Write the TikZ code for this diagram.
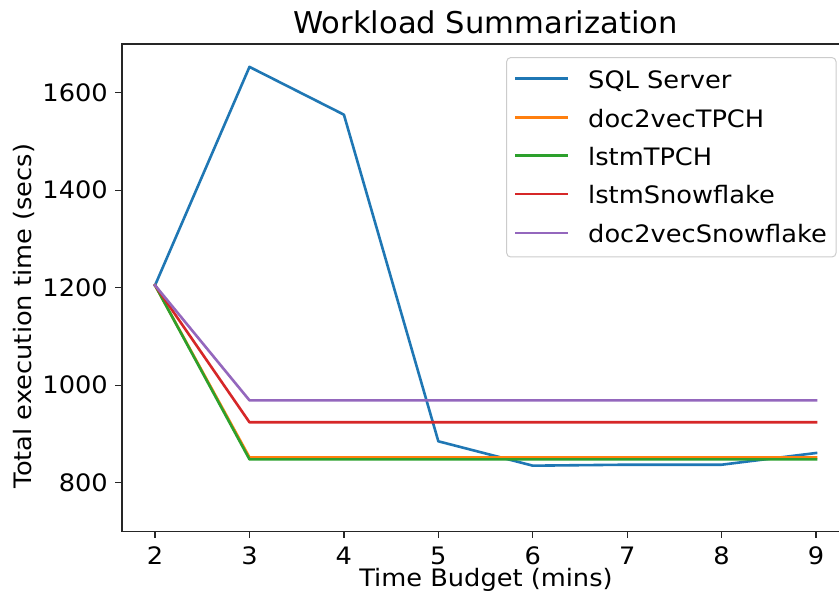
\documentclass[tikz,border=0pt]{standalone}
\usepackage{fontspec}
\setmainfont{DejaVu Sans}
\definecolor{tabblue}{HTML}{1F77B4}
\definecolor{taborange}{HTML}{FF7F0E}
\definecolor{tabgreen}{HTML}{2CA02C}
\definecolor{tabred}{HTML}{D62728}
\definecolor{tabpurple}{HTML}{9467BD}
\definecolor{spinegray}{HTML}{262626}
\tikzset{
  series/.style={line width=2.6pt, line join=round, line cap=rect},
  spine/.style={draw=spinegray, line width=1.4pt},
  tickmark/.style={draw=spinegray, line width=1.4pt},
  ticklabel/.style={font=\fontsize{24}{24}\selectfont, inner sep=0pt, xscale=1.07},
  axlabel/.style={font=\fontsize{24}{24}\selectfont, inner sep=0pt, xscale=1.07},
  legtext/.style={font=\fontsize{24}{24}\selectfont, inner sep=0pt, anchor=base west, xscale=1.07},
}
\begin{document}
\begin{tikzpicture}[x=1pt,y=1pt]
\useasboundingbox[fill=white] (0,0) rectangle (839,604);
% title
\node[font=\fontsize{30}{30}\selectfont, inner sep=0pt, anchor=base, xscale=1.02] (title) at (485.5,570.7) {Workload Summarization};
% data scope
\begin{scope}[x=94.43pt, y=0.4875pt, shift={(-33.81pt,-268.75pt)}]
  \clip (1.65,700) rectangle (9.35,1700);
  \draw[series, tabblue] plot coordinates {(2,1205) (3,1653) (4,1555) (5,885) (6,835) (7,837) (8,837) (9,861)};
  \draw[series, taborange] plot coordinates {(2,1205) (3,852) (4,852) (5,852) (6,852) (7,852) (8,852) (9,852)};
  \draw[series, tabgreen] plot coordinates {(2,1205) (3,848) (4,848) (5,848) (6,848) (7,848) (8,848) (9,848)};
  \draw[series, tabred] plot coordinates {(2,1205) (3,924) (4,924) (5,924) (6,924) (7,924) (8,924) (9,924)};
  \draw[series, tabpurple] plot coordinates {(2,1205) (3,969) (4,969) (5,969) (6,969) (7,969) (8,969) (9,969)};
\end{scope}
\begin{scope}[x=94.43pt, y=0.4875pt, shift={(-33.81pt,-268.75pt)}]
  % spines
  \draw[spine, line cap=rect] (9.35,1700) -- (1.65,1700) -- (1.65,700) -- (9.35,700);
  \draw[spine] (9.35,700) -- (9.35,1700);
  % x ticks
  \foreach \t in {2,...,9} {
    \draw[tickmark] (\t,700) -- ++(0,-6.5pt);
    \node[ticklabel, anchor=base] (xt\t) at ([yshift=-33.5pt]\t,700) {\t};
  }
  % y ticks
  \foreach \t in {800,1000,1200,1400,1600} {
    \draw[tickmark] (1.65,\t) -- ++(-6.5pt,0);
    \node[ticklabel, anchor=base east] (yt\t) at ([xshift=-14pt,yshift=-8.5pt]1.65,\t) {\t};
  }
\end{scope}
% axis labels
\node[axlabel, anchor=base] (xlabel) at (486,17.3) {Time Budget (mins)};
\node[font=\fontsize{24}{24}\selectfont, inner sep=0pt, anchor=base, rotate=90, xscale=1.07] (ylabel) at (31.3,288) {Total execution time (secs)};
% legend
\draw[draw=black!20, fill=white, fill opacity=0.8, line width=1pt, rounded corners=4pt] (506.7,546.4) rectangle (836,347) node (legbox) {};
\foreach \c/\lbl/\r [count=\i] in {tabblue/SQL Server/525.7, taborange/doc2vecTPCH/486.7, tabgreen/lstmTPCH/448.4, tabred/lstmSnowflake/410, tabpurple/doc2vecSnowflake/371} {
  \draw[series, \c, line cap=butt] (515,\r) -- (568,\r);
  \node[legtext] (leg\i) at (588,\r-10) {\lbl};
}
\end{tikzpicture}
\end{document}
